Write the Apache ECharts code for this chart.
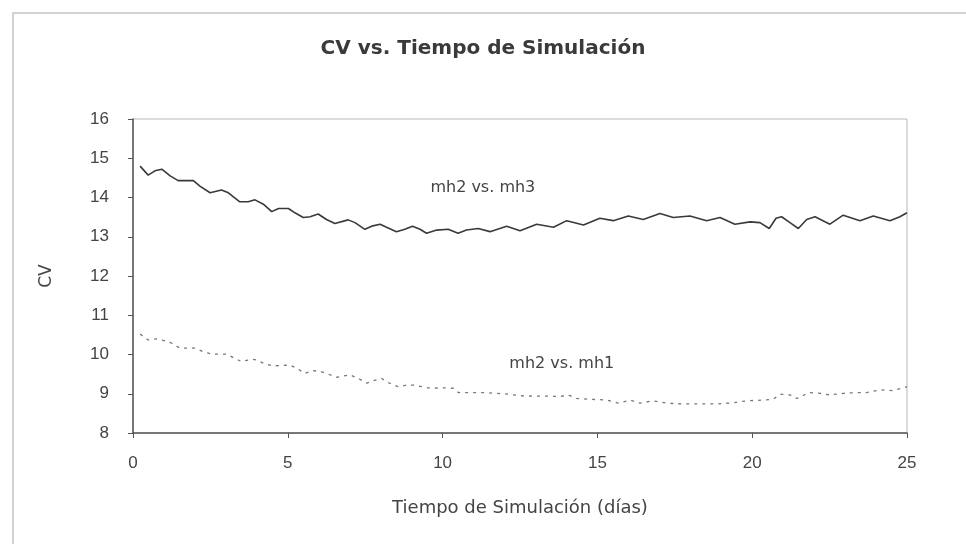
<!DOCTYPE html>
<html>
<head>
<meta charset="utf-8">
<script src="https://cdn.jsdelivr.net/npm/echarts@6/dist/echarts.min.js"></script>
<style>
  html, body { margin: 0; padding: 0; background: #fff; }
  #chart { width: 966px; height: 544px; }
</style>
</head>
<body>
<div id="chart"></div>
<script>
// datos: [dia, CV]
var mh3Dias = [0.23, 0.49, 0.71, 0.93, 1.2, 1.46, 1.95, 2.16, 2.49, 2.86, 3.08, 3.45, 3.72, 3.94, 4.21, 4.48, 4.7, 5.02, 5.23, 5.5, 5.72, 5.98, 6.25, 6.52, 6.95, 7.17, 7.49, 7.71, 7.98, 8.19, 8.51, 8.78, 9.03, 9.27, 9.48, 9.81, 10.18, 10.5, 10.77, 11.15, 11.53, 12.07, 12.5, 13.04, 13.58, 14.01, 14.55, 15.08, 15.51, 16.0, 16.48, 17.02, 17.45, 17.99, 18.53, 18.96, 19.44, 19.93, 20.25, 20.55, 20.77, 20.95, 21.22, 21.49, 21.76, 22.03, 22.51, 22.94, 23.48, 23.91, 24.45, 24.77, 25.0];
var mh3CV = [14.80, 14.57, 14.68, 14.72, 14.55, 14.43, 14.43, 14.29, 14.12, 14.19, 14.12, 13.89, 13.89, 13.94, 13.83, 13.64, 13.72, 13.72, 13.61, 13.49, 13.51, 13.58, 13.44, 13.34, 13.43, 13.36, 13.19, 13.27, 13.32, 13.24, 13.13, 13.19, 13.27, 13.19, 13.09, 13.17, 13.19, 13.09, 13.17, 13.21, 13.13, 13.27, 13.15, 13.32, 13.24, 13.41, 13.30, 13.47, 13.41, 13.53, 13.44, 13.59, 13.49, 13.53, 13.41, 13.49, 13.32, 13.38, 13.36, 13.21, 13.47, 13.51, 13.36, 13.21, 13.44, 13.51, 13.32, 13.55, 13.41, 13.53, 13.41, 13.51, 13.61];

var mh1Dias = [0.23, 0.49, 0.76, 1.03, 1.25, 1.52, 2.0, 2.27, 2.54, 3.02, 3.29, 3.51, 3.83, 4.0, 4.26, 4.53, 5.07, 5.29, 5.55, 5.82, 6.09, 6.31, 6.58, 7.01, 7.28, 7.55, 7.76, 8.03, 8.25, 8.57, 8.84, 9.11, 9.32, 9.59, 10.02, 10.35, 10.51, 10.99, 11.37, 11.75, 12.12, 12.5, 12.93, 13.36, 13.79, 14.06, 14.33, 14.76, 15.3, 15.68, 16.05, 16.38, 16.8, 17.23, 17.77, 18.31, 18.85, 19.39, 19.82, 20.36, 20.68, 20.9, 21.22, 21.44, 21.6, 21.81, 22.19, 22.51, 22.94, 23.37, 23.69, 24.13, 24.56, 25.0];
var mh1CV = [10.52, 10.37, 10.40, 10.35, 10.29, 10.16, 10.16, 10.07, 10.01, 10.01, 9.90, 9.82, 9.88, 9.86, 9.76, 9.71, 9.73, 9.65, 9.52, 9.59, 9.56, 9.50, 9.42, 9.48, 9.39, 9.27, 9.33, 9.39, 9.28, 9.18, 9.22, 9.22, 9.18, 9.14, 9.15, 9.14, 9.03, 9.03, 9.03, 9.01, 8.99, 8.95, 8.94, 8.94, 8.93, 8.97, 8.88, 8.86, 8.84, 8.76, 8.84, 8.76, 8.82, 8.76, 8.74, 8.74, 8.74, 8.77, 8.82, 8.84, 8.86, 8.99, 8.97, 8.88, 8.93, 9.03, 9.01, 8.97, 9.01, 9.03, 9.03, 9.10, 9.08, 9.18];

var nombres = ['mh2 vs. mh3', 'mh2 vs. mh1'];
// posicion de las etiquetas [dia, CV]
var etiquetaPos = [[11.3, 14.25], [13.85, 9.77]];

function pares(xs, ys) {
    var out = [];
    for (var i = 0; i < xs.length; i++) out.push([xs[i], ys[i]]);
    return out;
}

var chart = echarts.init(document.getElementById('chart'));
var fuente = 'DejaVu Sans, Verdana, sans-serif';
var fuenteNum = 'Liberation Sans, Arial, sans-serif';

var option = {
    backgroundColor: '#fff',
    animation: false,
    title: {
        text: 'CV vs. Tiempo de Simulación',
        left: 'center',
        top: 34,
        textStyle: { fontFamily: fuente, fontSize: 20, fontWeight: 'bold', color: '#3a3a3a' }
    },
    graphic: [{
        type: 'rect',
        shape: { x: 13, y: 13, width: 960, height: 540 },
        style: { fill: 'none', stroke: '#c4c4c4', lineWidth: 1.5 },
        silent: true
    }],
    grid: { left: 133, top: 119, right: 59, bottom: 111, show: true, borderColor: '#b8b8b8', borderWidth: 1 },
    xAxis: {
        type: 'value',
        min: 0, max: 25, interval: 5,
        name: 'Tiempo de Simulación (días)',
        nameLocation: 'middle',
        nameGap: 66,
        nameTextStyle: { fontFamily: fuente, fontSize: 18, color: '#444' },
        axisLine: { onZero: false, lineStyle: { color: '#555', width: 1.5 } },
        axisTick: { show: true, length: 5, lineStyle: { color: '#555' } },
        axisLabel: { fontFamily: fuenteNum, fontSize: 17, color: '#444', margin: 22 },
        splitLine: { show: false }
    },
    yAxis: {
        type: 'value',
        min: 8, max: 16, interval: 1,
        name: 'CV',
        nameLocation: 'middle',
        nameGap: 78,
        nameRotate: 90,
        nameTextStyle: { fontFamily: fuente, fontSize: 17, color: '#444' },
        axisLine: { show: true, lineStyle: { color: '#555', width: 1.5 } },
        axisTick: { show: true, length: 5, lineStyle: { color: '#555' } },
        axisLabel: { fontFamily: fuenteNum, fontSize: 17, color: '#444', margin: 24 },
        splitLine: { show: false }
    },
    series: [
        {
            name: nombres[0],
            type: 'line',
            data: pares(mh3Dias, mh3CV),
            showSymbol: false,
            lineStyle: { color: '#3a3a3a', width: 1.6 },
            markPoint: {
                symbolSize: 0,
                label: { show: true, formatter: nombres[0], fontFamily: fuente, fontSize: 16, color: '#444' },
                data: [{ coord: etiquetaPos[0] }]
            }
        },
        {
            name: nombres[1],
            type: 'line',
            data: pares(mh1Dias, mh1CV),
            showSymbol: false,
            lineStyle: { color: '#777', width: 1.3, type: [3, 5] },
            markPoint: {
                symbolSize: 0,
                label: { show: true, formatter: nombres[1], fontFamily: fuente, fontSize: 16, color: '#444' },
                data: [{ coord: etiquetaPos[1] }]
            }
        }
    ]
};

chart.setOption(option);
</script>
</body>
</html>
